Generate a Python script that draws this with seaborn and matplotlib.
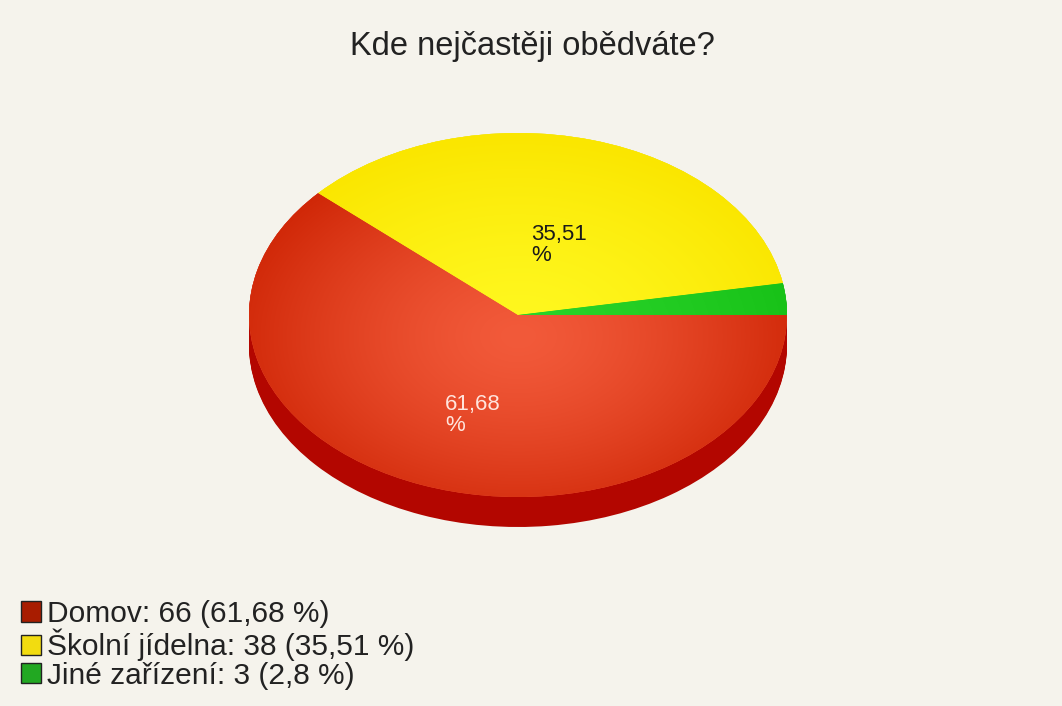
import numpy as np
import matplotlib
matplotlib.use("Agg")
import matplotlib.pyplot as plt
import seaborn as sns
from matplotlib.patches import Patch
from matplotlib.colors import to_rgb

# ---- data ----
categories = ["Domov", "Školní jídelna", "Jiné zařízení"]
counts = [66, 38, 3]
percents = [61.68, 35.51, 2.8]
show_label = [True, True, False]

# ---- colours ----
top_center = ["#f25a3a", "#fff820", "#2ad42a"]
top_edge = ["#cf2606", "#fae600", "#16c016"]
side_colors = ["#b30600", "#d6be00", "#109e10"]
legend_colors = ["#a81c00", "#f2dc10", "#22a822"]
label_colors = ["#ffe4dc", "#1a1a1a", "#1a1a1a"]
BG = "#f5f3ec"

sns.set_theme(style="white")
plt.rcParams['font.family'] = ['Liberation Sans', 'DejaVu Sans']

W, H = 1062, 706
fig = plt.figure(figsize=(W / 100, H / 100), dpi=100, facecolor=BG)
ax = fig.add_axes([0, 0, 1, 1])
ax.set_facecolor(BG)

cx, cy, rx, ry, depth = 518, 315, 269, 182, 30
dy = depth / ry

# side wall: stacked layers of the pie
for d in np.linspace(dy, 0.0, 32):
    ax.pie(counts, colors=side_colors, startangle=0, counterclock=False,
           center=(0, -d), radius=1, wedgeprops=dict(linewidth=0))

# top face
wedges, _ = ax.pie(counts, colors=top_center, startangle=0, counterclock=False,
                   center=(0, 0), radius=1, wedgeprops=dict(linewidth=0))

xs = np.linspace(-1.05, 1.05, 420)
X, Y = np.meshgrid(xs, xs)
R = np.clip(np.sqrt(X ** 2 + (Y + 0.12) ** 2) / 1.1, 0, 1)
for w, c0, c1 in zip(wedges, top_center, top_edge):
    a, b = np.array(to_rgb(c0)), np.array(to_rgb(c1))
    t = R[..., None] ** 1.4
    img = a * (1 - t) + b * t
    im = ax.imshow(img, extent=(-1.05, 1.05, -1.05, 1.05), origin='lower',
                   aspect='auto', interpolation='bilinear', zorder=w.get_zorder() + 0.5)
    im.set_clip_path(w)

# percentage labels inside slices
label_r = [0.56, 0.43, 0.5]
sx, sy = 9 / rx, -5 / ry
for w, p, show, col, r in zip(wedges, percents, show_label, label_colors, label_r):
    if not show:
        continue
    ang = np.deg2rad((w.theta1 + w.theta2) / 2)
    txt = f"{p:g}".replace('.', ',') + "\n%"
    ax.text(r * np.cos(ang) + sx, r * np.sin(ang) + sy, txt, ha='center', va='center',
            multialignment='left', fontsize=16, color=col, linespacing=1.0, zorder=10)

ax.set_aspect('auto')
ax.set_xlim((0 - cx) / rx, (W - cx) / rx)
ax.set_ylim((cy - H) / ry, cy / ry)
ax.axis('off')

fig.text(532 / W, 1 - 47 / H, "Kde nejčastěji obědváte?", ha='center', va='center',
         fontsize=23.5, color='#222222')

handles = [Patch(facecolor=c, edgecolor='#222222', linewidth=1) for c in legend_colors]
labels = [f"{c}: {n} ({str(p).replace('.', ',')} %)" for c, n, p in zip(categories, counts, percents)]
fig.legend(handles, labels, loc='upper left', bbox_to_anchor=(21 / W, 1 - 600 / H),
           frameon=False, fontsize=21.5, handlelength=0.66, handleheight=0.66,
           handletextpad=0.2, labelspacing=0.02, borderpad=0, borderaxespad=0,
           labelcolor='#222222')

fig.savefig('out.png', dpi=100, facecolor=BG)
